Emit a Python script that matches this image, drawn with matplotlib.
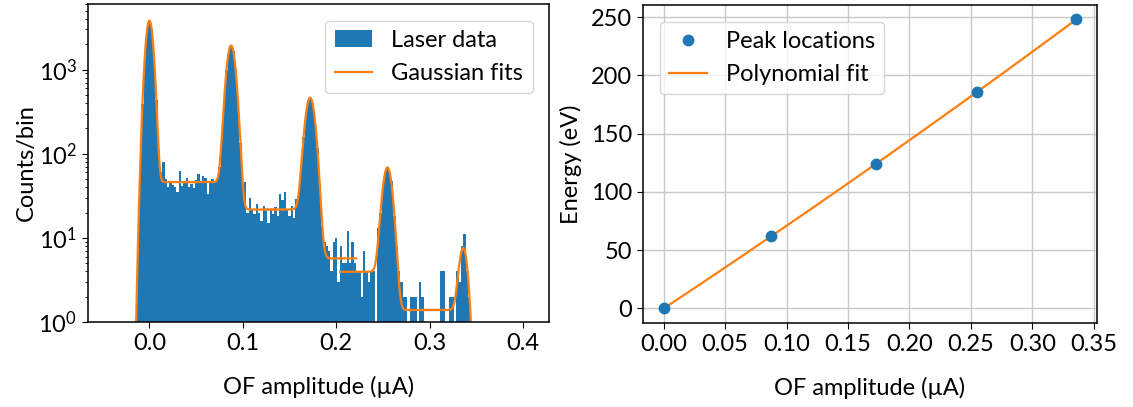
import math
import numpy as np
import matplotlib
matplotlib.use("Agg")
import matplotlib.pyplot as plt

# ---- left panel: laser calibration histogram ----
bin_start = -0.01625
bin_width = 0.0025
counts = [
    0, 7, 62, 390, 1380, 2950, 3800, 2990, 1400, 430,
    112, 60, 80, 50, 40, 47, 43, 40, 35, 63,
    41, 48, 52, 40, 44, 39, 49, 58, 47, 55,
    52, 33, 45, 50, 47, 50, 70, 160, 437, 993,
    1656, 1930, 1645, 975, 415, 135, 45, 46, 20, 30,
    22, 19, 25, 20, 16, 24, 21, 15, 22, 19,
    23, 18, 33, 28, 35, 22, 18, 24, 17, 29,
    38, 71, 157, 294, 430, 465, 395, 246, 116, 44,
    14, 9, 8, 7, 4, 9, 10, 3, 8, 5,
    5, 12, 5, 9, 5, 4, 4, 2, 7, 4,
    3, 4, 4, 1, 13, 20, 39, 60, 68, 59,
    48, 18, 8, 4, 3, 2, 2, 1, 2, 2,
    2, 1, 3, 2, 1, 1, 1, 1, 1, 1,
    1, 4, 4, 1, 1, 2, 2, 1, 4, 3,
    8, 11, 4, 2, 0,
]

# gaussian + step background fit parameters, one entry per peak
fit_mu = [0.0, 0.0875, 0.1722, 0.2550, 0.3364]
fit_amp = [3780, 1900, 450, 66, 6.9]
fit_sigma = [0.0035, 0.0042, 0.0046, 0.0045, 0.0040]
fit_bg_left = [0.0, 46, 21.7, 3.95, 1.39]
fit_bg_right = [46, 21.7, 5.7, 1.39, 0.0]
fit_lo = [-0.02, 0.04, 0.125, 0.2043, 0.29]
fit_hi = [0.05, 0.135, 0.2214, 0.31, 0.36]

# ---- right panel: calibration points ----
peak_amp = [0.0, 0.0877, 0.1725, 0.2552, 0.3358]
peak_energy = [0, 62, 124, 186, 248]
amp_ticks = [0.0, 0.05, 0.10, 0.15, 0.20, 0.25, 0.30, 0.35]

plt.rcParams['font.family'] = ['Lato', 'DejaVu Sans']
plt.rcParams['mathtext.fontset'] = 'custom'
plt.rcParams['mathtext.rm'] = 'Lato'
plt.rcParams['mathtext.it'] = 'Lato:italic'
plt.rcParams['mathtext.bf'] = 'Lato:bold'
plt.rcParams['font.size'] = 17
plt.rcParams['axes.linewidth'] = 1.1
plt.rcParams['xtick.major.size'] = 4.5
plt.rcParams['ytick.major.size'] = 4.5

fig = plt.figure(figsize=(11.33, 4.07), dpi=100)
ax1 = fig.add_axes([0.0777, 0.2088, 0.4069, 0.7813])
ax2 = fig.add_axes([0.5675, 0.2064, 0.4007, 0.7813])

erf = np.vectorize(math.erf)

# histogram
counts = np.array(counts, dtype=float)
edges = bin_start + bin_width * np.arange(len(counts) + 1)
centers = 0.5 * (edges[:-1] + edges[1:])
ax1.hist(centers, bins=edges, weights=counts, color='C0', label='Laser data')

# fits
for i in range(len(fit_mu)):
    xs = np.linspace(fit_lo[i], fit_hi[i], 400)
    step = 0.5 * (1 + erf((xs - fit_mu[i]) / (np.sqrt(2) * fit_sigma[i])))
    bg = fit_bg_left[i] + (fit_bg_right[i] - fit_bg_left[i]) * step
    ys = fit_amp[i] * np.exp(-(xs - fit_mu[i]) ** 2 / (2 * fit_sigma[i] ** 2)) + bg
    ys = np.clip(ys, 1e-3, None)
    ax1.plot(xs, ys, color='C1', lw=1.6, label='Gaussian fits' if i == 0 else None)

ax1.set_yscale('log')
ax1.set_ylim(1, 6000)
ax1.set_xlim(-0.0657, 0.428)
ax1.set_xticks([0.0, 0.1, 0.2, 0.3, 0.4])
ax1.set_ylabel('Counts/bin', labelpad=1)
ax1.set_xlabel('OF amplitude (µA)', labelpad=16)
ax1.legend(loc='upper right', fontsize=17, framealpha=0.8, borderaxespad=0.7,
           handlelength=1.6)

# calibration
xfit = np.linspace(min(peak_amp), max(peak_amp), 200)
coef = np.polyfit(peak_amp, peak_energy, 2)
ax2.plot(peak_amp, peak_energy, 'o', color='C0', ms=7.5, label='Peak locations', zorder=3)
ax2.plot(xfit, np.polyval(coef, xfit), color='C1', lw=1.6, label='Polynomial fit')
ax2.set_xticks(amp_ticks)
ax2.set_xticklabels(['%.2f' % t for t in amp_ticks])
ax2.set_xlim(-0.0168, 0.3526)
ax2.grid(True, color='#c8c8c8', lw=1.0)
ax2.set_axisbelow(True)
ax2.set_xlabel('OF amplitude (µA)', labelpad=16)
ax2.set_ylabel('Energy (eV)', labelpad=6)
ax2.legend(loc='upper left', fontsize=17, framealpha=0.8, borderaxespad=0.7,
           handlelength=1.6)

fig.savefig('out.png', dpi=100)
